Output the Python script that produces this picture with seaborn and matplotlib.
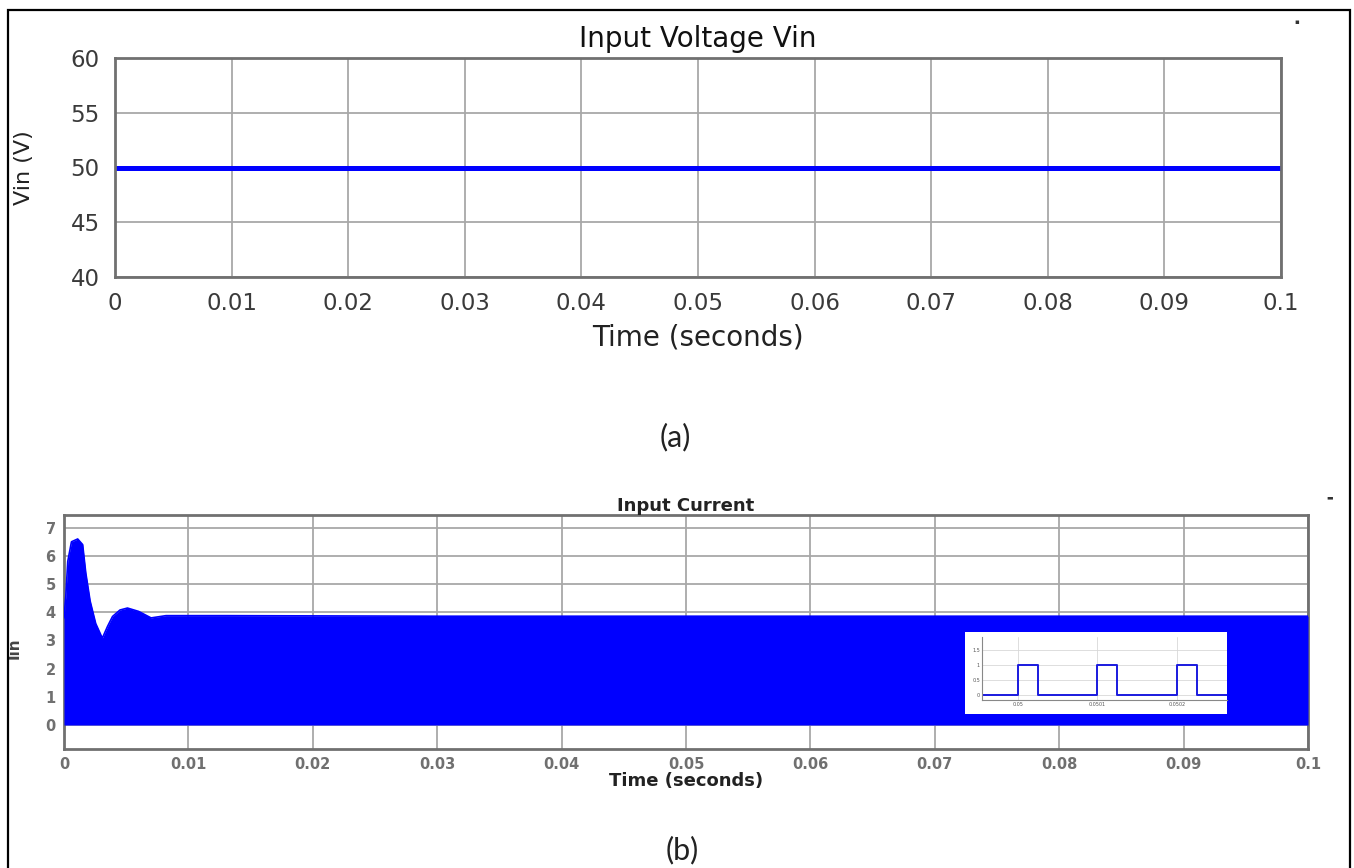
import matplotlib
matplotlib.use("Agg")
import matplotlib.pyplot as plt
import matplotlib.patches as mpatches
import numpy as np
import pandas as pd
import seaborn as sns

# ---- data -------------------------------------------------------------
time_ticks = [0, 0.01, 0.02, 0.03, 0.04, 0.05, 0.06, 0.07, 0.08, 0.09, 0.1]
time_labels = ["0", "0.01", "0.02", "0.03", "0.04", "0.05", "0.06",
               "0.07", "0.08", "0.09", "0.1"]

# input voltage (constant DC source)
vin_time = [0.0, 0.1]
vin_value = [50.0, 50.0]
vin_ticks = [40, 45, 50, 55, 60]

# input current: peak envelope of the switched current (lower edge is 0 A)
iin_time = [0.0, 0.00015, 0.0003, 0.0006, 0.0011, 0.0015, 0.00175, 0.0021,
            0.00255, 0.00308, 0.0035, 0.0039, 0.0045, 0.0051, 0.0060,
            0.0070, 0.0082, 0.0130, 0.0300, 0.0600, 0.0900, 0.1]
iin_peak = [3.8, 4.6, 5.8, 6.5, 6.6, 6.4, 5.4, 4.4, 3.6, 3.08, 3.5, 3.85,
            4.08, 4.15, 4.03, 3.8, 3.88, 3.88, 3.86, 3.86, 3.86, 3.86]
iin_floor = 0.0
iin_ticks = [0, 1, 2, 3, 4, 5, 6, 7]

# zoomed view of the gate pulses (steady state)
pulse_edges = [0.0499955, 0.05000, 0.0500025, 0.05001, 0.0500125,
               0.05002, 0.0500225, 0.0500263]
pulse_level = [0, 1, 0, 1, 0, 1, 0, 0]
pulse_ticks = [0.05000, 0.05001, 0.05002]
pulse_tick_labels = ["0.05", "0.0501", "0.0502"]
pulse_yticks = [0, 0.5, 1, 1.5]
pulse_ytick_labels = ["0", "0.5", "1", "1.5"]

# ---- figure -----------------------------------------------------------
sns.set_theme(style="whitegrid")
plt.rcParams["font.family"] = ["DejaVu Sans"]

W, H = 1354, 868
fig = plt.figure(figsize=(W / 100, H / 100), dpi=100)
fig.patch.set_facecolor("white")


def fx(px):
    return px / W


def fy(py):
    return 1 - py / H


# outer frame
fig.patches.append(mpatches.Rectangle((fx(8), -0.02), fx(1350) - fx(8), fy(10) + 0.02,
                                      transform=fig.transFigure, fill=False,
                                      edgecolor="black", linewidth=1.6))

grid_kw = dict(color="#a8a8a8", linewidth=1.3, linestyle="-")
spine_color = "#707070"
blue = "#0000ff"

# ---- (a) input voltage -----------------------------------------------
ax1 = fig.add_axes([fx(115), fy(277), fx(1281) - fx(115), fy(58) - fy(277)])
df_v = pd.DataFrame({"t": vin_time, "v": vin_value})
sns.lineplot(data=df_v, x="t", y="v", ax=ax1, color=blue, linewidth=3.6)
ax1.set_xlim(0, 0.1)
ax1.set_ylim(40, 60)
ax1.set_xticks(time_ticks)
ax1.set_xticklabels(time_labels)
ax1.set_yticks(vin_ticks)
ax1.grid(True, **grid_kw)
for s in ax1.spines.values():
    s.set_color(spine_color)
    s.set_linewidth(2.0)
ax1.tick_params(axis="both", direction="in", length=5, width=1.2, color=spine_color,
                labelsize=16.5, labelcolor="#3a3a3a", pad=11)
ax1.set_title("Input Voltage Vin", fontsize=20, color="#111111", pad=8)
ax1.set_xlabel("Time (seconds)", fontsize=20, color="#222222", labelpad=6)
ax1.set_ylabel("Vin (V)", fontsize=16, color="#222222")
ax1.yaxis.set_label_coords(-(115 - 34) / (1281 - 115), 0.5)

fig.text(fx(675), fy(437), "(a)", ha="center", va="center", fontsize=22,
         family=["Lato", "DejaVu Sans"], color="#222222")

# ---- (b) input current -----------------------------------------------
ax2 = fig.add_axes([fx(64), fy(749), fx(1308) - fx(64), fy(515) - fy(749)])
df_i = pd.DataFrame({"t": iin_time, "i": iin_peak})
ax2.fill_between(df_i["t"], iin_floor, df_i["i"], color=blue, linewidth=0, zorder=3)
sns.lineplot(data=df_i, x="t", y="i", ax=ax2, color=blue, linewidth=1.2, zorder=3)
ax2.set_xlim(0, 0.1)
ax2.set_ylim(-0.85, 7.45)
ax2.set_xticks(time_ticks)
ax2.set_xticklabels(time_labels)
ax2.set_yticks(iin_ticks)
ax2.grid(True, **grid_kw)
for s in ax2.spines.values():
    s.set_color(spine_color)
    s.set_linewidth(2.0)
ax2.tick_params(axis="both", direction="in", length=4, width=1.2, color="#444444",
                labelsize=10.5, labelcolor="#707070", pad=6)
for lab in ax2.get_xticklabels() + ax2.get_yticklabels():
    lab.set_fontweight("bold")
ax2.set_title("Input Current", fontsize=13, fontweight="bold", color="#222222", pad=3)
ax2.set_xlabel("Time (seconds)", fontsize=13, fontweight="bold", color="#222222", labelpad=0)
ax2.set_ylabel("Iin", fontsize=11, fontweight="bold", color="#444444")
ax2.yaxis.set_label_coords(-(64 - 22) / (1308 - 64), 0.43)

fig.text(fx(682), fy(850), "(b)", ha="center", va="center", fontsize=22,
         family=["Lato", "DejaVu Sans"], color="#222222")

# ---- inset: gate pulse detail ----------------------------------------
box = fig.add_axes([fx(965), fy(714), fx(1227) - fx(965), fy(632) - fy(714)])
box.set_facecolor("white")
box.set_xticks([])
box.set_yticks([])
box.grid(False)
for s in box.spines.values():
    s.set_visible(False)
box.set_zorder(5)

ax3 = fig.add_axes([fx(982), fy(700), fx(1227) - fx(982), fy(637) - fy(700)])
ax3.set_zorder(6)
ax3.set_facecolor("white")
df_p = pd.DataFrame({"t": pulse_edges, "g": pulse_level})
sns.lineplot(data=df_p, x="t", y="g", ax=ax3, color="#1a1adf", linewidth=1.4,
             drawstyle="steps-post")
ax3.set_xlim(pulse_edges[0], pulse_edges[-1])
ax3.set_ylim(-0.17, 1.93)
ax3.set_xticks(pulse_ticks)
ax3.set_xticklabels(pulse_tick_labels)
ax3.set_yticks(pulse_yticks)
ax3.set_yticklabels(pulse_ytick_labels)
ax3.set_xlabel("")
ax3.set_ylabel("")
ax3.grid(True, color="#d8d8d8", linewidth=0.6)
for name, s in ax3.spines.items():
    if name in ("left", "bottom"):
        s.set_color("#888888")
        s.set_linewidth(0.8)
    else:
        s.set_visible(False)
ax3.tick_params(axis="both", direction="in", length=2, width=0.6, labelsize=3.5,
                labelcolor="#555555", pad=1.5)

# small stray markers at the figure edges
fig.text(fx(1297), fy(22), "▪", fontsize=5, color="#333333", ha="center", va="center")
fig.text(fx(1330), fy(497), "▬", fontsize=5, color="#333333", ha="center", va="center")

fig.savefig("out.png", dpi=100)
